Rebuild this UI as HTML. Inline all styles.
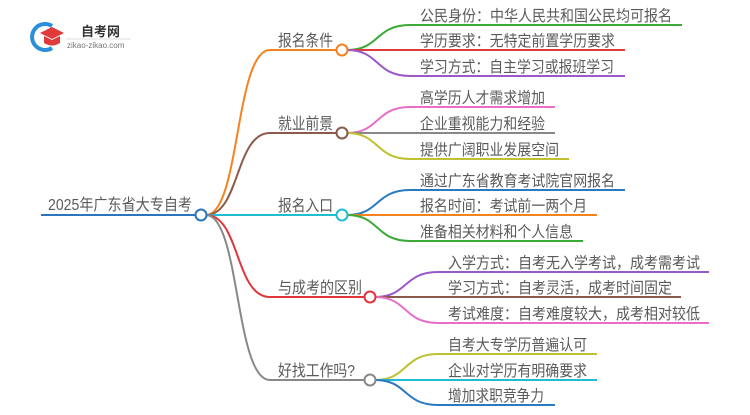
<!DOCTYPE html>
<html><head><meta charset="utf-8">
<style>
html,body{margin:0;padding:0;background:#fff;}
body{width:750px;height:410px;overflow:hidden;}
svg text{font-family:"Liberation Sans","Noto Sans CJK SC",sans-serif;fill:#5a5a5a;}
</style></head><body>
<svg width="750" height="410" xmlns="http://www.w3.org/2000/svg">
<g>
<path d="M52 26 A13 13 0 1 0 52 48" fill="none" stroke="#2a8fd8" stroke-width="4"/>
<polygon points="40,33 52,27 64,33 52,39" fill="#e03a3a"/>
<path d="M44 36 L44 43 Q52 48 60 43 L60 36 L52 40 Z" fill="#e03a3a"/>
<text x="81" y="36" font-size="13" font-weight="bold" style="fill:#333">自考网</text>
<line x1="66" y1="39" x2="131" y2="39" stroke="#ddd" stroke-width="1"/>
<text x="67" y="48" font-size="8" style="fill:#777">zikao-zikao.com</text>
</g>

<g fill="none" stroke-width="2">
<line x1="41" y1="215" x2="196" y2="215" stroke="#2a75bb"/>
<path d="M206 215 C240 215 235 50 270 50 L337 50" stroke="#f5821f"/>
<path d="M206 215 C240 215 235 133 270 133 L337 133" stroke="#8b5a4a"/>
<path d="M206 215 L337 215" stroke="#1fbcd2"/>
<path d="M206 215 C240 215 235 297 270 297 L365 297" stroke="#e0363a"/>
<path d="M206 215 C240 215 235 380 270 380 L365 380" stroke="#888"/>

<path d="M347 50 C380 50 375 25 410 25 L682 25" stroke="#3aa935"/>
<path d="M347 50 L625 50" stroke="#e03a3a"/>
<path d="M347 50 C380 50 375 76 410 76 L625 76" stroke="#9b59c8"/>
<path d="M347 133 C380 133 375 107 410 107 L555 107" stroke="#e86ec8"/>
<path d="M347 133 L555 133" stroke="#888"/>
<path d="M347 133 C380 133 375 159 410 159 L569 159" stroke="#c0c030"/>
<path d="M347 215 C380 215 375 190 410 190 L625 190" stroke="#2a7ac0"/>
<path d="M347 215 L597 215" stroke="#f5821f"/>
<path d="M347 215 C380 215 375 241 410 241 L583 241" stroke="#3aa935"/>
<path d="M375 297 C408 297 403 272 438 272 L709 272" stroke="#9b59c8"/>
<path d="M375 297 L681 297" stroke="#8b5a4a"/>
<path d="M375 297 C408 297 403 323 438 323 L709 323" stroke="#e86ec8"/>
<path d="M375 380 C408 380 403 354 438 354 L597 354" stroke="#c0c030"/>
<path d="M375 380 L597 380" stroke="#1fbcd2"/>
<path d="M375 380 C408 380 403 405 438 405 L555 405" stroke="#2a7ac0"/>
</g>

<g fill="#fff" stroke-width="2">
<circle cx="201" cy="215" r="5.5" stroke="#2a75bb"/>
<circle cx="342" cy="50" r="5.5" stroke="#f5821f"/>
<circle cx="342" cy="133" r="5.5" stroke="#8b5a4a"/>
<circle cx="342" cy="215" r="5.5" stroke="#1fbcd2"/>
<circle cx="370" cy="297" r="5.5" stroke="#e0363a"/>
<circle cx="370" cy="380" r="5.5" stroke="#888"/>
</g>

<g font-size="16" lengthAdjust="spacingAndGlyphs">
<text x="48" y="210" textLength="144" lengthAdjust="spacingAndGlyphs">2025年广东省大专自考</text>
<text x="278" y="46" textLength="55" lengthAdjust="spacingAndGlyphs">报名条件</text>
<text x="278" y="129" textLength="55" lengthAdjust="spacingAndGlyphs">就业前景</text>
<text x="278" y="211" textLength="55" lengthAdjust="spacingAndGlyphs">报名入口</text>
<text x="278" y="293" textLength="84" lengthAdjust="spacingAndGlyphs">与成考的区别</text>
<text x="278" y="376" textLength="77" lengthAdjust="spacingAndGlyphs">好找工作吗?</text>
</g>
<g font-size="15.5">
<text x="420" y="21" textLength="252" lengthAdjust="spacingAndGlyphs">公民身份：中华人民共和国公民均可报名</text>
<text x="420" y="46" textLength="195" lengthAdjust="spacingAndGlyphs">学历要求：无特定前置学历要求</text>
<text x="420" y="72" textLength="194" lengthAdjust="spacingAndGlyphs">学习方式：自主学习或报班学习</text>
<text x="420" y="103" textLength="125" lengthAdjust="spacingAndGlyphs">高学历人才需求增加</text>
<text x="420" y="129" textLength="125" lengthAdjust="spacingAndGlyphs">企业重视能力和经验</text>
<text x="420" y="155" textLength="139" lengthAdjust="spacingAndGlyphs">提供广阔职业发展空间</text>
<text x="420" y="186" textLength="195" lengthAdjust="spacingAndGlyphs">通过广东省教育考试院官网报名</text>
<text x="420" y="211" textLength="167" lengthAdjust="spacingAndGlyphs">报名时间：考试前一两个月</text>
<text x="420" y="237" textLength="153" lengthAdjust="spacingAndGlyphs">准备相关材料和个人信息</text>
<text x="448" y="268" textLength="252" lengthAdjust="spacingAndGlyphs">入学方式：自考无入学考试，成考需考试</text>
<text x="448" y="293" textLength="224" lengthAdjust="spacingAndGlyphs">学习方式：自考灵活，成考时间固定</text>
<text x="448" y="319" textLength="252" lengthAdjust="spacingAndGlyphs">考试难度：自考难度较大，成考相对较低</text>
<text x="448" y="350" textLength="139" lengthAdjust="spacingAndGlyphs">自考大专学历普遍认可</text>
<text x="448" y="376" textLength="139" lengthAdjust="spacingAndGlyphs">企业对学历有明确要求</text>
<text x="448" y="401" textLength="96" lengthAdjust="spacingAndGlyphs">增加求职竞争力</text>
</g>
</svg>
</body></html>
